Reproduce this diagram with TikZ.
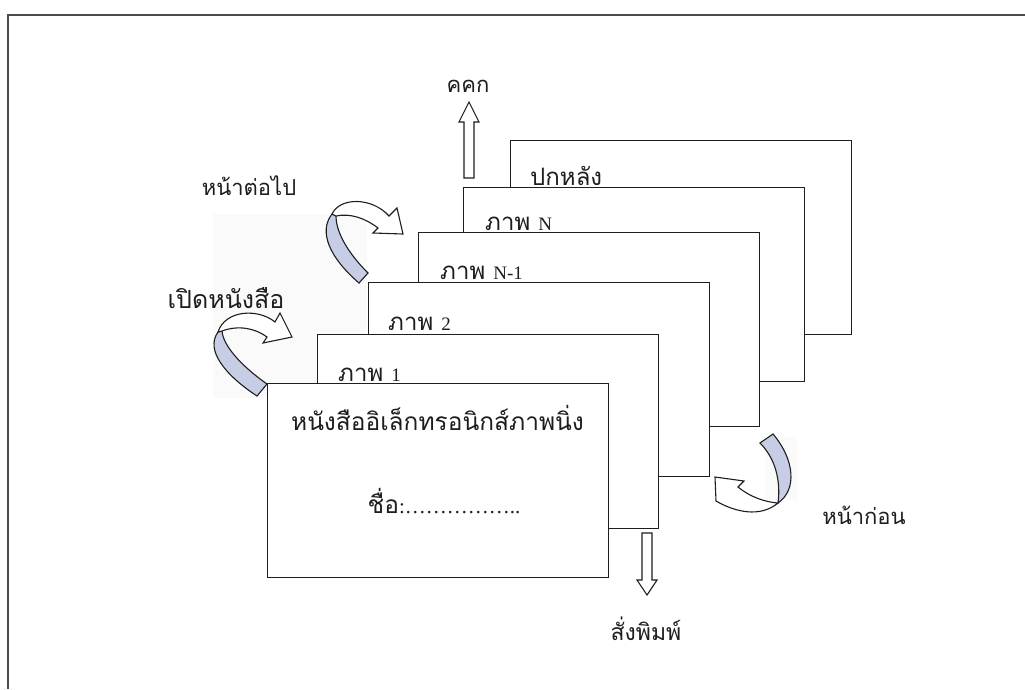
\documentclass[tikz,border=0pt]{standalone}
\usepackage{fontspec}
\newfontfamily\thaifont[Script=Thai]{Loma}
\newfontfamily\latfont{Liberation Serif}
\definecolor{bandfill}{RGB}{200,205,230}
\definecolor{clipbg}{RGB}{250,250,251}
\definecolor{ink}{RGB}{30,30,30}
\begin{document}
\begin{tikzpicture}[x=1pt,y=-1pt,
  frameline/.style={draw=ink!80, line width=1.1pt},
  page/.style={draw=ink, line width=1.3pt, fill=white, minimum width=341pt,
    minimum height=194pt, inner sep=0pt, anchor=north west},
  plabel/.style={font=\thaifont\fontsize{24}{26}\selectfont, inner sep=0pt, anchor=base west, text=ink},
  tlabel/.style={font=\thaifont\fontsize{24.5}{26}\selectfont, inner sep=0pt, anchor=base, text=ink},
  olabel/.style={font=\thaifont\fontsize{22}{24}\selectfont, inner sep=0pt, anchor=base, text=ink},
  hollow/.style={draw=ink, line width=1.1pt, fill=white, line join=miter},
  band/.style={draw=ink, line width=1.1pt, fill=bandfill},
  curvearrow/.style={draw=ink, line width=1.1pt, fill=white, line join=miter}]
\newcommand{\latn}[1]{{\latfont\fontsize{19}{20}\selectfont #1}}
\useasboundingbox (0,0) rectangle (1025,689);
\fill[white] (0,0) rectangle (1025,689);
% outer frame
\draw[frameline] (8,689) -- (8,15) -- (1025,15);
% faint clip-art backgrounds
\fill[clipbg] (213,214) rectangle (367,398);
\fill[clipbg] (765,437) rectangle (797,500);
% pages, back to front
\node[page] (back) at (510,140) {};
\node[page] (pN)   at (463,187) {};
\node[page] (pNa)  at (418,232) {};
\node[page] (ptwo) at (368,282) {};
\node[page] (pone) at (317,334) {};
\node[page] (front) at (267,383) {};
% page labels
\node[plabel] (lback) at (530,185) {ปกหลัง};
\node[plabel] (lN)    at (485,230) {ภาพ \latn{N}};
\node[plabel] (lNa)   at (440,279) {ภาพ \latn{N-1}};
\node[plabel] (ltwo)  at (388,330) {ภาพ \latn{2}};
\node[plabel] (lone)  at (338,381) {ภาพ \latn{1}};
% front page texts
\node[tlabel] (title) at (437.5,430) {หนังสืออิเล็กทรอนิกส์ภาพนิ่ง};
\node[tlabel] (name)  at (444,513) {ชื่อ{\latfont\fontsize{21}{22}\selectfont :……………..}};
% outside labels
\node[olabel] (lup)    at (468,92)  {คคก};
\node[olabel] (lnext)  at (249,195) {หน้าต่อไป};
\node[olabel, font=\thaifont\fontsize{25}{27}\selectfont] (lopen)  at (226,308) {เปิดหนังสือ};
\node[olabel] (lprev)  at (864,524) {หน้าก่อน};
\node[olabel, font=\thaifont\fontsize{23}{25}\selectfont] (lprint) at (646,640) {สั่งพิมพ์};
% hollow straight arrows
\draw[hollow] (464,178) -- (464,122) -- (459,122) -- (469,102) -- (479,122) -- (474,122) -- (474,178) -- cycle;
\draw[hollow] (642,533) -- (642,580) -- (637,580) -- (647,595) -- (657,580) -- (652,580) -- (652,533) -- cycle;
% curved arrow: next page
\draw[band] (332,214) .. controls (318,232) and (330,258) .. (359,283) -- (368,273)
  .. controls (345,250) and (336,230) .. (336,216) -- cycle;
\draw[curvearrow] (332,214) .. controls (340,197) and (372,197) .. (389,216) -- (397,208) -- (403,234)
  -- (373,233) -- (378,228) .. controls (365,218) and (350,213) .. (336,216) -- cycle;
% curved arrow: open book
\draw[band] (218,332) .. controls (205,350) and (225,375) .. (257,396) -- (267,384)
  .. controls (240,365) and (223,345) .. (222,331) -- cycle;
\draw[curvearrow] (218,332) .. controls (225,310) and (258,308) .. (275,322) -- (280,313) -- (292,337)
  -- (263,343) -- (267,337) .. controls (255,328) and (238,325) .. (222,331) -- cycle;
% curved arrow: previous page
\draw[curvearrow] (778,503) .. controls (760,518) and (735,512) .. (716,501) -- (715,477) -- (744,481)
  -- (738,487) .. controls (750,497) and (765,502) .. (778,503) -- cycle;
\draw[band] (760,443) -- (773,434) .. controls (795,460) and (797,490) .. (778,503)
  .. controls (781,480) and (775,458) .. (760,443) -- cycle;
\end{tikzpicture}
\end{document}
